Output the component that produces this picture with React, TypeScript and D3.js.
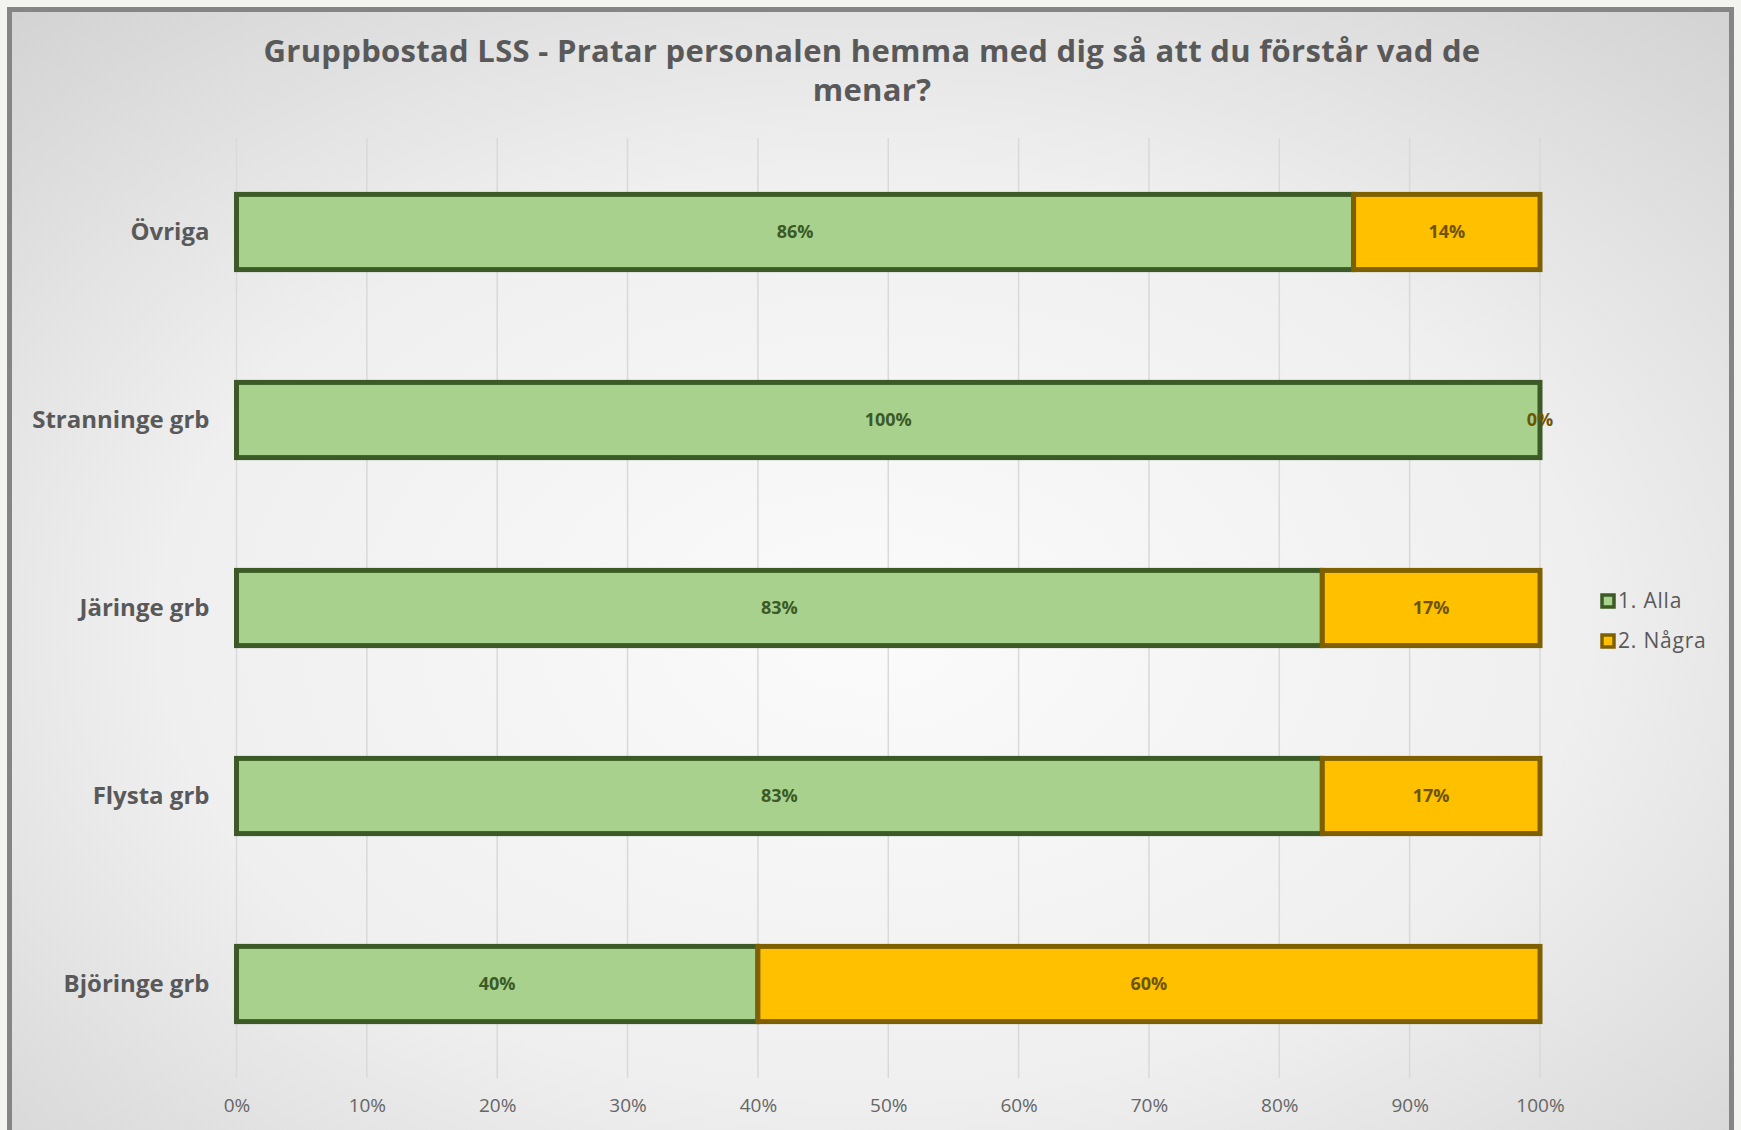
import React, { useEffect, useRef } from "react";
import * as d3 from "d3";

const categories = ["Övriga", "Stranninge grb", "Järinge grb", "Flysta grb", "Björinge grb"];
const allaValues = [0.857, 1.0, 0.833, 0.833, 0.4];
const nagraValues = [0.143, 0.0, 0.167, 0.167, 0.6];
const seriesNames = ["1. Alla", "2. Några"];
const xTicks = [0, 0.1, 0.2, 0.3, 0.4, 0.5, 0.6, 0.7, 0.8, 0.9, 1.0];

const fills = ["#A9D18E", "#FFC000"];
const strokes = ["#3B5A26", "#7F6000"];
const labelColors = ["#3B5A26", "#6E5400"];
const font = "'Open Sans', 'Noto Sans', sans-serif";

const App = () => {
  const svgRef = useRef<SVGSVGElement>(null);

  useEffect(() => {
    const width = 1741;
    const height = 1130;
    const margin = { top: 138, bottom: 1078, left: 236.5, right: 1540 };

    const svg = d3.select(svgRef.current);
    svg.selectAll("*").remove();
    svg.attr("width", width).attr("height", height);

    const defs = svg.append("defs");
    const grad = defs.append("radialGradient")
      .attr("id", "bg")
      .attr("cx", "50%").attr("cy", "55%").attr("r", "75%");
    grad.append("stop").attr("offset", "0%").attr("stop-color", "#fbfbfb");
    grad.append("stop").attr("offset", "55%").attr("stop-color", "#efefef");
    grad.append("stop").attr("offset", "100%").attr("stop-color", "#d2d2d2");

    // page + chart frame
    svg.append("rect").attr("width", width).attr("height", height).attr("fill", "#f3f3ef");
    svg.append("rect")
      .attr("x", 9.5).attr("y", 9.5)
      .attr("width", 1722).attr("height", 1130)
      .attr("fill", "url(#bg)")
      .attr("stroke", "#858585")
      .attr("stroke-width", 5);

    // scales
    const x = d3.scaleLinear().domain([0, 1]).range([margin.left, margin.right]);
    const y = d3.scaleBand()
      .domain(categories)
      .range([margin.top, margin.bottom])
      .paddingInner(0.6)
      .paddingOuter(0.3);

    // gridlines
    svg.append("g")
      .selectAll("line")
      .data(xTicks)
      .enter()
      .append("line")
      .attr("x1", d => x(d)).attr("x2", d => x(d))
      .attr("y1", margin.top).attr("y2", margin.bottom)
      .attr("stroke", "#d9d9d9")
      .attr("stroke-width", 1.5);

    // x axis labels
    const xAxis = d3.axisBottom(x)
      .tickValues(xTicks)
      .tickFormat(d => `${Math.round((d as number) * 100)}%`)
      .tickSize(0)
      .tickPadding(0);
    const gx = svg.append("g")
      .attr("transform", `translate(0,${margin.bottom + 20})`)
      .call(xAxis);
    gx.select(".domain").remove();
    gx.selectAll("text")
      .attr("fill", "#666666")
      .attr("font-family", font)
      .attr("font-size", 19)
      .attr("dy", "0.71em");

    // y axis labels
    const yAxis = d3.axisLeft(y).tickSize(0).tickPadding(27);
    const gy = svg.append("g")
      .attr("transform", `translate(${margin.left},0)`)
      .call(yAxis);
    gy.select(".domain").remove();
    gy.selectAll("text")
      .attr("fill", "#595959")
      .attr("font-family", font)
      .attr("font-weight", "bold")
      .attr("font-size", 24);

    // stacked bars
    const series = [allaValues, nagraValues];
    const bh = y.bandwidth();
    series.forEach((vals, si) => {
      const g = svg.append("g");
      const starts = vals.map((v, i) => (si === 0 ? 0 : allaValues[i]));
      g.selectAll("rect")
        .data(vals)
        .enter()
        .append("rect")
        .attr("x", (d, i) => x(starts[i]))
        .attr("y", (d, i) => y(categories[i])!)
        .attr("width", (d, i) => x(starts[i] + d) - x(starts[i]))
        .attr("height", bh)
        .attr("fill", fills[si])
        .attr("stroke", strokes[si])
        .attr("stroke-width", 5);

      g.selectAll("text")
        .data(vals)
        .enter()
        .append("text")
        .attr("x", (d, i) => x(starts[i] + d / 2))
        .attr("y", (d, i) => y(categories[i])! + bh / 2)
        .attr("dy", "0.35em")
        .attr("text-anchor", "middle")
        .attr("fill", labelColors[si])
        .attr("font-family", font)
        .attr("font-weight", "bold")
        .attr("font-size", 18)
        .text(d => `${Math.round(d * 100)}%`);
    });

    // title
    const title = svg.append("text")
      .attr("text-anchor", "middle")
      .attr("fill", "#595959")
      .attr("font-family", font)
      .attr("font-weight", "bold")
      .attr("font-size", 31)
      .attr("letter-spacing", 0.3);
    title.append("tspan").attr("x", 872).attr("y", 62)
      .text("Gruppbostad LSS - Pratar personalen hemma med dig så att du förstår vad de");
    title.append("tspan").attr("x", 872).attr("y", 101).text("menar?");

    // legend
    const legend = svg.append("g").attr("transform", "translate(1602,601)");
    seriesNames.forEach((name, i) => {
      const row = legend.append("g").attr("transform", `translate(0,${i * 40})`);
      row.append("rect")
        .attr("x", 0).attr("y", -6)
        .attr("width", 12).attr("height", 12)
        .attr("fill", fills[i])
        .attr("stroke", strokes[i])
        .attr("stroke-width", 3.5);
      row.append("text")
        .attr("x", 16).attr("y", 0)
        .attr("dy", "0.35em")
        .attr("fill", "#595959")
        .attr("font-family", font)
        .attr("font-size", 21)
        .attr("letter-spacing", 0.8)
        .text(name);
    });
  }, []);

  return (
    <div style={{ position: "absolute", left: 0, top: 0 }}>
      <svg ref={svgRef} style={{ display: "block" }}></svg>
    </div>
  );
};

export default App;
